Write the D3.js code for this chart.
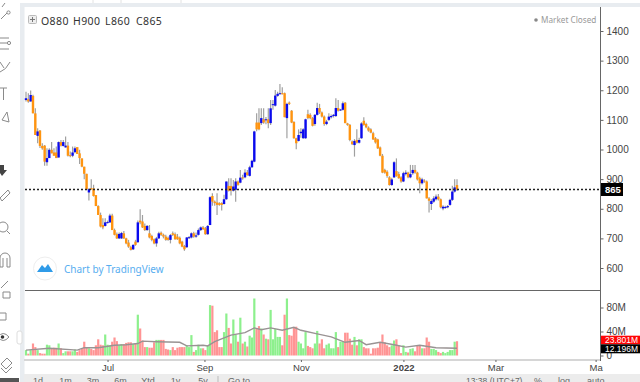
<!DOCTYPE html>
<html>
<head>
<meta charset="utf-8">
<script src="https://cdn.jsdelivr.net/npm/d3@7"></script>
<style>
  html, body { margin: 0; padding: 0; background: #fff; overflow: hidden; }
  svg { display: block; font-family: "Liberation Sans", Arial, sans-serif; }
  .axis path, .axis line { stroke: #666; }
  .axis text { fill: #444; }
</style>
</head>
<body>
<div id="chart"></div>
<script>
const opens = [1167,1170,1162,1181,1122,1046,1064,1012,1013,957,
  971,999,990,990,973,1025,1012,1007,1013,981,
  979,991,1008,987,970,942,918,855,869,869,
  846,809,779,745,742,752,754,777,728,714,
  700,700,717,700,686,670,663,689,687,760,
  757,742,728,717,708,697,683,700,719,712,
  706,702,695,717,714,706,702,689,674,670,
  702,703,717,706,712,728,737,734,714,745,
  843,824,821,819,819,816,832,877,877,861,
  864,892,888,906,906,923,911,940,959,1091,
  1091,1089,1102,1100,1102,1089,1150,1148,1181,1188,
  1190,1190,1106,1158,1131,1093,1038,1029,1055,1038,
  1038,1119,1117,1106,1086,1117,1140,1125,1111,1086,
  1100,1109,1113,1113,1140,1133,1134,1158,1088,1083,
  1027,1015,1032,1023,1038,1097,1086,1074,1068,1055,
  1038,1034,1007,979,931,925,906,880,906,927,
  917,906,892,917,922,906,920,931,922,903,
  886,895,892,835,816,824,832,841,832,801,
  804,805,813,830,858,880];
const highs = [1195,1190,1199,1185,1139,1072,1066,1021,1015,1004,
  1004,1025,1004,1010,1027,1032,1032,1044,1025,993,
  1010,1010,1008,999,970,942,918,869,900,881,
  846,812,787,768,768,760,783,783,733,720,
  720,722,725,702,695,675,680,695,760,798,
  779,750,745,745,712,700,705,722,723,716,
  712,706,715,723,720,715,706,692,678,705,
  708,720,722,720,733,740,742,738,745,842,
  852,828,852,822,822,847,892,903,903,897,
  903,895,931,915,933,931,945,965,1063,1122,
  1139,1139,1139,1110,1139,1167,1167,1201,1195,1221,
  1210,1192,1158,1162,1133,1095,1040,1068,1072,1072,
  1104,1134,1122,1110,1120,1158,1154,1128,1115,1100,
  1122,1118,1120,1173,1167,1137,1162,1160,1090,1086,
  1030,1035,1068,1040,1092,1109,1090,1078,1072,1060,
  1042,1036,1010,985,935,930,910,905,960,970,
  925,910,925,930,925,948,948,948,925,908,
  905,900,895,840,832,842,848,850,835,812,
  810,813,834,878,900,900];
const lows = [1162,1158,1162,1122,1049,1021,1005,999,945,945,
  971,987,979,971,973,1010,1010,1007,976,974,
  974,987,985,951,940,900,866,828,864,841,
  809,779,737,731,740,750,752,728,710,698,
  698,698,698,680,668,659,661,675,685,748,
  735,725,726,700,690,680,672,698,708,700,
  692,692,683,708,695,695,680,670,658,668,
  698,700,702,702,710,725,728,712,712,745,
  810,810,779,810,794,814,830,858,845,858,
  824,878,886,898,903,911,909,938,957,1062,
  1065,1083,1087,1085,1072,1083,1134,1145,1178,1186,
  1186,1109,1038,1150,1089,1036,1001,1027,1040,1036,
  1036,1102,1102,1078,1080,1115,1120,1108,1080,1082,
  1096,1105,1108,1110,1128,1130,1132,1089,1080,1028,
  1015,976,1020,1020,1036,1080,1072,1060,1055,1032,
  1020,1002,977,920,918,905,878,878,904,908,
  901,888,890,912,903,903,915,918,895,852,
  882,888,835,787,796,820,828,828,802,795,
  800,802,810,826,855,860];
const closes = [1173,1162,1184,1122,1049,1061,1012,1004,959,971,
  999,987,979,971,1025,1013,1025,1013,979,979,
  990,1004,985,971,942,918,866,866,866,843,
  809,779,740,737,754,755,777,728,712,700,
  715,718,700,683,672,661,678,678,754,754,
  737,728,742,703,695,683,700,717,712,706,
  695,695,711,712,697,697,683,672,663,703,
  704,717,706,710,728,737,731,714,742,839,
  824,819,813,813,813,832,892,861,861,875,
  892,881,905,903,922,914,940,962,1061,1068,
  1068,1106,1091,1102,1089,1139,1153,1182,1188,1190,
  1188,1109,1154,1154,1091,1038,1021,1049,1060,1068,
  1102,1106,1106,1080,1117,1140,1125,1111,1086,1094,
  1111,1113,1117,1140,1131,1135,1156,1089,1083,1032,
  1018,1029,1023,1032,1088,1083,1075,1064,1057,1034,
  1024,1004,979,922,922,911,880,899,957,911,
  903,892,920,922,906,917,931,922,899,886,
  899,892,835,827,826,835,841,832,805,807,
  806,809,830,858,872,865];
// volume in millions
const volumes = [9,3,9,20,14,9,4,3,3,18,
  17,12,13,13,20,12,4,7,7,7,
  7,10,6,9,12,23,14,12,11,9,
  17,27,18,17,35,18,17,23,30,24,
  17,19,19,21,22,22,19,20,68,45,
  25,14,14,13,13,22,26,26,26,26,
  11,10,9,14,9,13,14,14,14,17,
  14,34,6,9,18,12,12,9,17,84,
  83,39,42,14,14,39,70,46,20,60,
  35,23,63,20,23,15,33,30,95,45,
  49,45,35,28,27,76,27,44,31,31,
  17,68,95,34,33,46,48,23,20,12,
  39,16,14,12,20,41,20,27,12,18,
  20,12,12,39,14,23,23,38,38,28,
  18,31,17,27,27,14,12,12,3,12,
  12,13,22,35,22,17,14,17,25,27,
  17,4,17,6,5,11,12,7,16,16,
  12,12,30,23,11,11,9,6,4,6,
  4,6,9,9,23,23.8];

// volume average, read at the bends of the line
const maIndex = [0,10,22,25,31,38,43,48,50,56,66,69,76,78,81,88,94,98,101,105,110,115,118,125,131,137,143,146,152,158,163,169,176,185];
const maValues = [9,12,9,13,13,17,18,20,24,23,22,16,17,16,23,34,38,46,43,46,42,47,42,36,31,22,25,18,22,18,14,17,13,12.2];

const priceTicks = [600,700,800,900,1000,1100,1200,1300,1400];
const volumeTicks = [0,40,80];
const volumeTickLabels = ["0","40M","80M"];
const timeTickIndex = [35,76.6,118,162,201.5,244.5];
const timeTickLabels = ["Jul","Sep","Nov","2022","Mar","Ma"];
const rangeButtons = ["1d","1m","3m","6m","Ytd","1y","5y"];
const lastClose = 865;

const width = 640, height = 382;
const props = { left: 25, right: 600, top: 7, paneSplit: 290.5, bottom: 359 };

const svg = d3.select("#chart").append("svg").attr("width", width).attr("height", height);

const xScale = d3.scaleLinear().domain([0, 185]).range([26, 457]);
const yScale = d3.scaleLinear().domain([600, 1400]).range([268, 31]);
const vScale = d3.scaleLinear().domain([0, 80]).range([355.5, 307.5]);

// chrome bands
svg.append("rect").attr("x", 20).attr("y", 3).attr("width", 620).attr("height", 4).attr("fill", "#e8ecf0");
svg.append("rect").attr("x", 20).attr("y", 3).attr("width", 4.5).attr("height", 379).attr("fill", "#e8ecf0");
svg.append("rect").attr("x", 24).attr("y", 359).attr("width", 577).attr("height", 2).attr("fill", "#d6d6d6");
svg.append("rect").attr("x", 24).attr("y", 374).attr("width", 616).attr("height", 8).attr("fill", "#ececec");
[93, 121, 181].forEach(x => {
  svg.append("line").attr("x1", x).attr("x2", x).attr("y1", 0).attr("y2", 3).attr("stroke", "#e2e2e2");
});

// candles
const candles = svg.append("g");
const idx = d3.range(opens.length);
candles.selectAll("line").data(idx).join("line")
  .attr("x1", i => xScale(i))
  .attr("x2", i => xScale(i))
  .attr("y1", i => yScale(highs[i]))
  .attr("y2", i => yScale(lows[i]))
  .attr("stroke", "#a0a0a0")
  .attr("stroke-width", 1.2);
candles.selectAll("rect").data(idx).join("rect")
  .attr("x", i => xScale(i) - 1.2)
  .attr("width", 2.4)
  .attr("y", i => yScale(Math.max(opens[i], closes[i])))
  .attr("height", i => Math.max(1, Math.abs(yScale(opens[i]) - yScale(closes[i]))))
  .attr("fill", i => closes[i] >= opens[i] ? "#0a0aee" : "#ff9410");

// last price line
svg.append("line")
  .attr("x1", props.left).attr("x2", props.right)
  .attr("y1", yScale(lastClose)).attr("y2", yScale(lastClose))
  .attr("stroke", "#222").attr("stroke-width", 1.6).attr("stroke-dasharray", "2,2");

// volume bars
svg.append("g").selectAll("rect").data(idx).join("rect")
  .attr("x", i => xScale(i) - 1.1)
  .attr("width", 2.2)
  .attr("y", i => vScale(volumes[i]))
  .attr("height", i => vScale(0) - vScale(volumes[i]))
  .attr("fill", i => closes[i] >= opens[i] ? "#8df08d" : "#ff9494");

const maLine = d3.line().x((d, k) => xScale(maIndex[k])).y(d => vScale(d));
svg.append("path").attr("d", maLine(maValues))
  .attr("fill", "none").attr("stroke", "#999393").attr("stroke-width", 1.4);

// pane frame
svg.append("line").attr("x1", props.left).attr("x2", 600).attr("y1", props.paneSplit).attr("y2", props.paneSplit)
  .attr("stroke", "#666");

// axes
const priceAxis = d3.axisRight(yScale).tickValues(priceTicks).tickSize(3).tickPadding(3).tickFormat(d3.format("d"));
const gPrice = svg.append("g").attr("class", "axis").attr("transform", `translate(${props.right + 0.5},0)`).call(priceAxis);
gPrice.select(".domain").remove();
gPrice.selectAll("text").attr("font-size", 10).attr("font-family", "Liberation Sans");

const volumeAxis = d3.axisRight(vScale).tickValues(volumeTicks).tickSize(3).tickPadding(3)
  .tickFormat((d, k) => volumeTickLabels[k]);
const gVol = svg.append("g").attr("class", "axis").attr("transform", `translate(${props.right + 0.5},0)`).call(volumeAxis);
gVol.select(".domain").remove();
gVol.selectAll("text").attr("font-size", 10).attr("font-family", "Liberation Sans");

svg.append("line").attr("x1", 600.5).attr("x2", 600.5).attr("y1", props.top).attr("y2", props.bottom + 2)
  .attr("stroke", "#666");

const timeAxis = d3.axisBottom(xScale).tickValues(timeTickIndex).tickSize(2).tickPadding(2)
  .tickFormat((d, k) => timeTickLabels[k]);
const gTime = svg.append("g").attr("class", "axis").attr("transform", `translate(0,${props.bottom + 1})`).call(timeAxis);
gTime.select(".domain").remove();
gTime.selectAll("text").attr("font-size", 9.5).attr("font-family", "Liberation Sans");
gTime.selectAll("text").filter((d, k) => timeTickLabels[k] === "2022").attr("font-weight", "bold").attr("fill", "#222");

// last price labels
function tag (y, h, fill, label, w, size, bold) {
  svg.append("rect").attr("x", 601).attr("y", y).attr("width", w).attr("height", h).attr("fill", fill);
  svg.append("text").attr("x", 605).attr("y", y + h / 2 + size * 0.36).attr("font-size", size).attr("fill", "#fff")
    .attr("font-weight", bold ? "bold" : "normal").text(label);
}
tag(yScale(lastClose) - 6.5, 13, "#000", "865", 22, 9.5, true);
tag(335.7, 8.6, "#ff0505", "23.801M", 39, 8.5, false);
tag(344.3, 9, "#000", "12.196M", 39, 8.5, false);

// legend
const legend = svg.append("g");
legend.append("rect").attr("x", 28.5).attr("y", 15.5).attr("width", 8).attr("height", 8).attr("rx", 1)
  .attr("fill", "#eee").attr("stroke", "#bbb");
legend.append("path").attr("d", "M32.5,17V22M30,19.5H35").attr("stroke", "#777").attr("fill", "none");
const ohlc = [["O880", 41], ["H900", 73], ["L860", 105], ["C865", 136]];
ohlc.forEach(([t, x]) => {
  legend.append("text").attr("x", x).attr("y", 25).attr("font-size", 10.5).attr("fill", "#333")
    .attr("font-family", "Noto Sans").attr("letter-spacing", 0.4).text(t);
});
legend.append("circle").attr("cx", 536).attr("cy", 20).attr("r", 1.8).attr("fill", "#888");
legend.append("text").attr("x", 541).attr("y", 23).attr("font-size", 8.2).attr("fill", "#999")
  .attr("font-family", "Noto Sans").text("Market Closed");

// tradingview badge
const badge = svg.append("g");
badge.append("circle").attr("cx", 45).attr("cy", 268.5).attr("r", 11.5).attr("fill", "#fff").attr("stroke", "#eeeeee");
badge.append("path").attr("d", "M37,272 L42,265 L45,268 L48,264 L53,272 Z").attr("fill", "#2f9be8");
badge.append("text").attr("x", 64).attr("y", 273).attr("font-size", 10).attr("fill", "#58aef0")
  .attr("font-family", "Noto Sans").text("Chart by TradingView");

// bottom toolbar, mostly cut off by the window edge
rangeButtons.forEach((t, k) => {
  svg.append("text").attr("x", 38 + k * 27.5).attr("y", 384).attr("font-size", 9).attr("text-anchor", "middle")
    .attr("fill", "#666").text(t);
});
svg.append("line").attr("x1", 218).attr("x2", 218).attr("y1", 376).attr("y2", 382).attr("stroke", "#bbb");
svg.append("text").attr("x", 228).attr("y", 384).attr("font-size", 9).attr("fill", "#666").text("Go to");
svg.append("text").attr("x", 466).attr("y", 384).attr("font-size", 8.5).attr("fill", "#666").text("13:38 (UTC+7)");
svg.append("text").attr("x", 534).attr("y", 384).attr("font-size", 9).attr("fill", "#666").text("%");
svg.append("text").attr("x", 558).attr("y", 384).attr("font-size", 9).attr("fill", "#666").text("log");
svg.append("text").attr("x", 587).attr("y", 384).attr("font-size", 9).attr("fill", "#666").text("auto");

// left drawing toolbar
const toolPaths = [
  "M1,19 L7,13 M2,7 L5,3",
  "M0,38 H9 M0,43 H7 M0,49 H9",
  "M0,72 Q6,70 10,62 M0,62 L4,68",
  "M0,88 H7 M3.5,88 V100",
  "M2,120 L7,112 L9,122 Z",
  "M0,198 L8,190 L10,193 L2,201 Z",
  "M-2,227 A5,5 0 1 1 8,227 A5,5 0 1 1 -2,227 M7,231 L10,234",
  "M0,258 A5,5 0 0 1 10,258 V267 H7 V258 M3,258 V267 H0 V258",
  "M1,288 L8,281 M3,292 H10 V298 H3 Z",
  "M0,313 H6 V320 H0",
  "M-2,337 Q3,330 9,337 Q3,344 -2,337",
  "M1,364 L7,358 L12,363 L6,369 Z M1,368 L6,373 L12,367"
];
toolPaths.forEach(d => {
  svg.append("path").attr("d", d).attr("fill", "none").attr("stroke", "#8a8a8a").attr("stroke-width", 1);
});
svg.append("circle").attr("cx", 8.5).attr("cy", 12.5).attr("r", 1.6).attr("fill", "#fff").attr("stroke", "#8a8a8a");
svg.append("circle").attr("cx", 9, 0).attr("cy", 43).attr("r", 1.6).attr("fill", "#fff").attr("stroke", "#8a8a8a");
svg.append("circle").attr("cx", 2.5).attr("cy", 337).attr("r", 1.8).attr("fill", "#333");
svg.append("path").attr("d", "M0,165 H4 V170 H7 L2,176 L-2,170 H0 Z").attr("fill", "#444");
svg.append("rect").attr("x", 0).attr("y", 378).attr("width", 19).attr("height", 4).attr("fill", "#555");
svg.append("rect").attr("x", 17).attr("y", 331).attr("width", 5).attr("height", 13).attr("rx", 2).attr("fill", "#fff").attr("stroke", "#ddd");
</script>
</body>
</html>
